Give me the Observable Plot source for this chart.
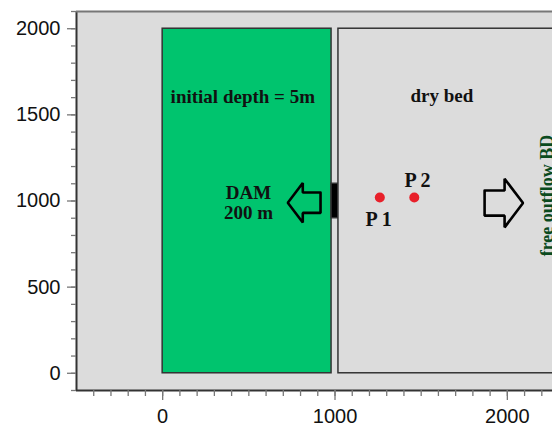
<!DOCTYPE html>
<html>
<head>
<meta charset="utf-8">
<script src="https://cdn.jsdelivr.net/npm/d3@7"></script>
<script src="https://cdn.jsdelivr.net/npm/@observablehq/plot@0.6"></script>
<style>
  html, body { margin: 0; padding: 0; background: #fff; overflow: hidden; }
</style>
</head>
<body>
<div id="chart"></div>
<script>
// Regions (metres)
const regionNames = ["reservoir", "dam", "floodplain"];
const regionX1 = [0, 980, 1020];
const regionX2 = [980, 1020, 2400];
const regionY1 = [0, 900, 0];
const regionY2 = [2000, 1100, 2000];

// Gauge points
const pointNames = ["P 1", "P 2"];
const pointX = [1260, 1460];
const pointY = [1020, 1020];
const pointLabelX = [1253, 1479];
const pointLabelY = [892, 1119];

// Annotation texts
const noteTexts = ["initial depth = 5m", "dry bed", "DAM", "200 m"];
const noteX = [465, 1620, 498, 498];
const noteY = [1602, 1612, 1047, 931];
const sideText = "free outflow BD";
const sideX = 2233, sideY = 1032;

// Arrows: tail x, tip x, centre y, head-base x, head half-height, shaft half-height
const arrowTail = [916, 1868];
const arrowTip = [726, 2091];
const arrowMid = [990, 988];
const arrowHeadBase = [813, 1984];
const arrowHeadHalf = [115, 141];
const arrowShaftHalf = [59, 73];

// Axis ticks
const xMajor = [0, 1000, 2000];
const yMajor = [0, 500, 1000, 1500, 2000];
const xMinor = d3.range(-400, 2300, 100);
const yMinor = d3.range(-100, 2101, 100);

const rects = regionNames.map((n, i) => ({n, x1: regionX1[i], x2: regionX2[i], y1: regionY1[i], y2: regionY2[i]}));
const pts = pointNames.map((n, i) => ({n, x: pointX[i], y: pointY[i], lx: pointLabelX[i], ly: pointLabelY[i]}));
const notes = noteTexts.map((t, i) => ({t, x: noteX[i], y: noteY[i]}));
const arrowPts = [];
arrowTail.forEach((tail, i) => {
  const m = arrowMid[i], hb = arrowHeadBase[i], hh = arrowHeadHalf[i], sh = arrowShaftHalf[i], tip = arrowTip[i];
  [[tail, m + sh], [hb, m + sh], [hb, m + hh], [tip, m], [hb, m - hh], [hb, m - sh], [tail, m - sh], [tail, m + sh]]
    .forEach(([x, y]) => arrowPts.push({a: i, x, y}));
});

const fill = {reservoir: "#00c46e", dam: "#000000", floodplain: "#dcdcdc"};
const serif = "'Liberation Serif', 'Times New Roman', serif";
const blank = () => "";

const chart = Plot.plot({
  width: 552,
  height: 426,
  marginLeft: 76,
  marginRight: 0,
  marginTop: 11,
  marginBottom: 36,
  x: {domain: [-500, 2262]},
  y: {domain: [-100, 2100]},
  style: {fontFamily: "'Liberation Sans', Arial, sans-serif", fontSize: "20px", color: "#111", background: "#fff"},
  marks: [
    Plot.frame({fill: "#dcdcdc", stroke: null}),
    Plot.rect(rects, {x1: "x1", x2: "x2", y1: "y1", y2: "y2", fill: d => fill[d.n], stroke: "#333", strokeWidth: 1.5, clip: true}),
    Plot.line(arrowPts, {x: "x", y: "y", z: "a", stroke: "#000", strokeWidth: 2.6, strokeLinejoin: "miter", clip: true}),
    Plot.dot(pts, {x: "x", y: "y", r: 5, fill: "#e8202a", stroke: null}),
    Plot.text(pts, {x: "lx", y: "ly", text: "n", fontFamily: serif, fontWeight: "bold", fontSize: 20, fill: "#111"}),
    Plot.text(notes, {x: "x", y: "y", text: "t", fontFamily: serif, fontWeight: "bold", fontSize: 19, fill: "#111"}),
    Plot.text([sideText], {x: sideX, y: sideY, text: d => d, rotate: -90, fontFamily: serif, fontWeight: "bold", fontSize: 18, fill: "#0a4a1e"}),
    // frame edges
    Plot.ruleX([-500], {stroke: "#333", strokeWidth: 2}),
    Plot.ruleY([-100], {stroke: "#333", strokeWidth: 2}),
    Plot.ruleY([2100], {stroke: "#777", strokeWidth: 2}),
    // axes
    Plot.axisY(yMinor, {tickSize: 5, tickFormat: blank, label: null, stroke: "#777", strokeWidth: 1.3}),
    Plot.axisY(yMajor, {tickSize: 9, tickPadding: 7, label: null, stroke: "#777", strokeWidth: 1.3, tickFormat: d => String(d)}),
    Plot.axisX(xMinor, {tickSize: 6, tickFormat: blank, label: null, stroke: "#777", strokeWidth: 1.3}),
    Plot.axisX(xMajor, {tickSize: 10, tickPadding: 8, label: null, stroke: "#777", strokeWidth: 1.3, tickFormat: d => String(d)})
  ]
});
document.getElementById("chart").appendChild(chart);
</script>
</body>
</html>
